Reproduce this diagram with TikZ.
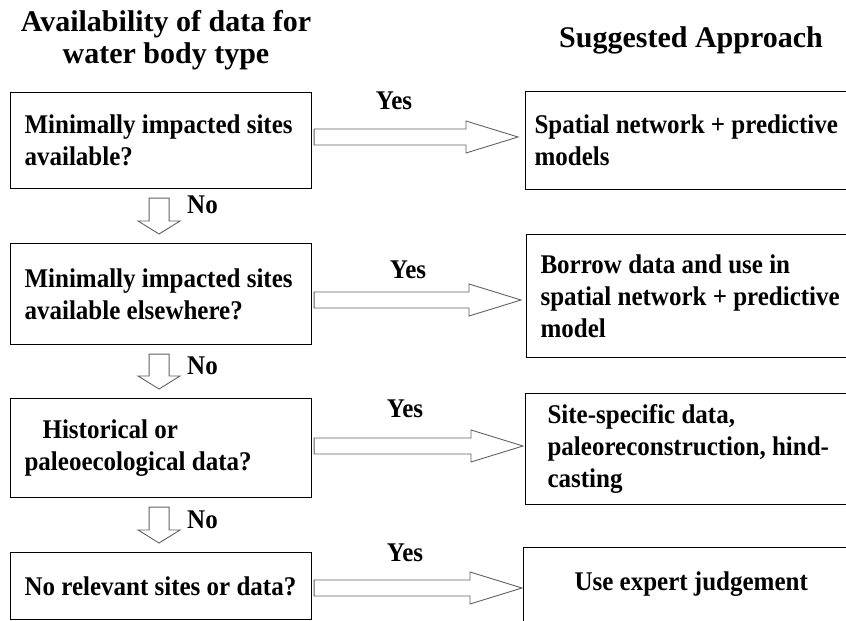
\documentclass[tikz,border=0pt]{standalone}
\usepackage{fontspec}
\setmainfont{Liberation Serif}
\newfontfamily\bodyfont[FakeStretch=0.926]{Liberation Serif}
\usetikzlibrary{calc}
\newcommand\oneline[1]{\mbox{#1}}
\begin{document}
\begin{tikzpicture}[x=1pt,y=-1pt,
  box/.style={draw=black, line width=1.1pt, anchor=north west, inner ysep=0pt,
    font=\bodyfont\fontsize{27}{32}\selectfont\bfseries, align=flush left},
  ttl/.style={font=\fontsize{30}{32}\selectfont\bfseries, align=center, inner sep=0pt},
  lbl/.style={font=\bodyfont\fontsize{27}{30}\selectfont\bfseries, inner sep=0pt},
  barrow/.style={draw=black!62, line width=0.9pt, fill=white, line join=miter}]
\clip (0,0) rectangle (846,621);
% titles
\node[ttl] (t1) at (166,40) {Availability of data for\\water body type};
\node[ttl] (t2) at (691,40) {Suggested Approach};
% left boxes
\node[box, minimum width=301pt, minimum height=96pt, inner xsep=14pt, text width=273pt] (b1) at (10,92) {\oneline{Minimally impacted sites}\\\oneline{available?}};
\node[box, minimum width=301pt, minimum height=101pt, inner xsep=14pt, text width=273pt] (b2) at (10,243) {\oneline{Minimally impacted sites}\\\oneline{available elsewhere?}};
\node[box, minimum width=301pt, minimum height=99pt, inner xsep=14pt, text width=273pt] (b3) at (10,398) {\hspace*{18pt}\oneline{Historical or}\\\oneline{paleoecological data?}};
\node[box, minimum width=301pt, minimum height=67pt, inner xsep=14pt, text width=273pt] (b4) at (10,552) {\oneline{No relevant sites or data?}};
% right boxes
\node[box, minimum width=340pt, minimum height=98pt, inner xsep=9pt, text width=322pt] (r1) at (525,91) {\oneline{Spatial network + predictive}\\\oneline{models}};
\node[box, minimum width=340pt, minimum height=123pt, inner xsep=14pt, text width=312pt] (r2) at (526,234) {\oneline{Borrow data and use in}\\\oneline{spatial network + predictive}\\\oneline{model}};
\node[box, minimum width=340pt, minimum height=111pt, inner xsep=22pt, text width=296pt] (r3) at (525,393) {\oneline{Site-specific data,}\\\oneline{paleoreconstruction, hind-}\\\oneline{casting}};
\node[box, minimum width=340pt, minimum height=74pt, inner xsep=51pt, text width=238pt] (r4) at (523,547) {\oneline{Use expert judgement}};
% arrow levels
\coordinate (ya1) at (0,137);
\coordinate (ya2) at (0,300);
\coordinate (ya3) at (0,446);
\coordinate (ya4) at (0,588);
% Yes arrows
\foreach \b/\r/\y/\g in {b1/r1/ya1/7, b2/r2/ya2/5, b3/r3/ya3/2, b4/r4/ya4/1}{
  \coordinate (tip) at ($(\r.west|-\y)+(-\g,0)$);
  \draw[barrow] ($(\b.east|-\y)+(2,-8)$) -- ($(tip)+(-52,-8)$) -- ($(tip)+(-52,-16)$) -- (tip)
     -- ($(tip)+(-52,16)$) -- ($(tip)+(-52,8)$) -- ($(\b.east|-\y)+(2,8)$) -- cycle;
}
% No arrows
\foreach \a/\b in {b1/b2, b2/b3, b3/b4}{
  \coordinate (dtop) at ($(\a.south)+(-2,9)$);
  \coordinate (dtip) at ($(\b.north)+(-2,-9)$);
  \draw[barrow] ($(dtop)+(-10,0)$) -- ($(dtip)+(-10,-13)$) -- ($(dtip)+(-21,-13)$) -- (dtip)
     -- ($(dtip)+(21,-13)$) -- ($(dtip)+(10,-13)$) -- ($(dtop)+(10,0)$) -- cycle;
}
% labels
\node[lbl] (y1) at (394,101) {Yes};
\node[lbl] (y2) at (408,270) {Yes};
\node[lbl] (y3) at (405,409) {Yes};
\node[lbl] (y4) at (405,553) {Yes};
\node[lbl, anchor=west] (n1) at (187,205) {No};
\node[lbl, anchor=west] (n2) at (187,366) {No};
\node[lbl, anchor=west] (n3) at (187,520) {No};
\end{tikzpicture}
\end{document}
